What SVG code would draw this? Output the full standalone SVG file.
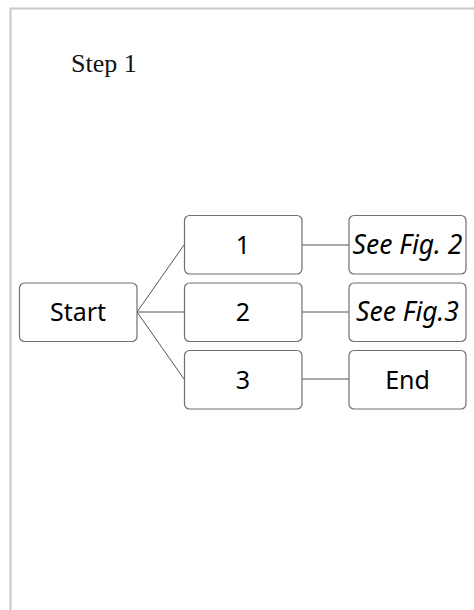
<svg xmlns="http://www.w3.org/2000/svg" width="474" height="610" viewBox="0 0 474 610">
<style>
.box{fill:#fff;stroke:#707070;stroke-width:1.2}
.lbl{font-family:"Noto Sans","Open Sans",sans-serif;font-size:25px;fill:#000;text-anchor:middle}
.it{font-style:italic;font-size:26.5px}
.con{stroke:#555;stroke-width:1;fill:none}
</style>
<rect x="0" y="0" width="474" height="610" fill="#fff"/>
<path d="M10.5,610 V8.5 H474" fill="none" stroke="#c8c8c8" stroke-width="2"/>
<text x="71" y="72" font-family="'Liberation Serif',serif" font-size="26" fill="#111">Step 1</text>
<g id="connectors">
<line class="con" x1="137" y1="312" x2="184" y2="245"/>
<line class="con" x1="137" y1="312" x2="184" y2="312"/>
<line class="con" x1="137" y1="312" x2="184" y2="379"/>
<line class="con" x1="302" y1="245" x2="349" y2="245"/>
<line class="con" x1="302" y1="312" x2="349" y2="312"/>
<line class="con" x1="302" y1="379" x2="349" y2="379"/>
</g>
<g id="start"><rect class="box" x="19.5" y="283" width="117.5" height="58.5" rx="5"/><text class="lbl" x="78" y="321">Start</text></g>
<g id="n1"><rect class="box" x="184.5" y="215.5" width="117.5" height="58.5" rx="5"/><text class="lbl" x="243" y="253.5">1</text></g>
<g id="n2"><rect class="box" x="184.5" y="283" width="117.5" height="58.5" rx="5"/><text class="lbl" x="243" y="321">2</text></g>
<g id="n3"><rect class="box" x="184.5" y="350.5" width="117.5" height="58.5" rx="5"/><text class="lbl" x="243" y="388.5">3</text></g>
<g id="fig2"><rect class="box" x="349" y="215.5" width="117" height="58.5" rx="5"/><text class="lbl it" x="407.5" y="253.5">See Fig. 2</text></g>
<g id="fig3"><rect class="box" x="349" y="283" width="117" height="58.5" rx="5"/><text class="lbl it" x="407.5" y="321">See Fig.3</text></g>
<g id="end"><rect class="box" x="349" y="350.5" width="117" height="58.5" rx="5"/><text class="lbl" x="407.5" y="388.5">End</text></g>
</svg>
